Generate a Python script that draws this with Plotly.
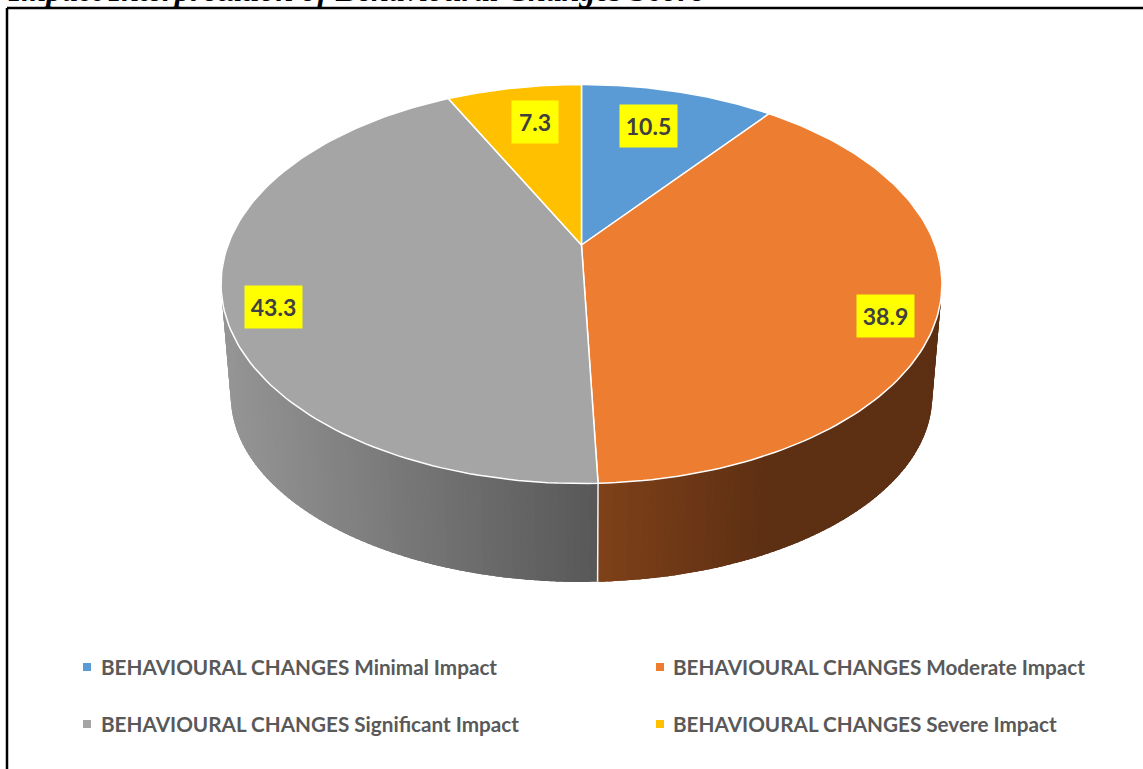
import numpy as np
import plotly.graph_objects as go

# Data
categories = ["BEHAVIOURAL CHANGES Minimal Impact", "BEHAVIOURAL CHANGES Moderate Impact",
              "BEHAVIOURAL CHANGES Significant Impact", "BEHAVIOURAL CHANGES Severe Impact"]
values = [10.5, 38.9, 43.3, 7.3]
colors = ["#5B9BD5", "#ED7D31", "#A5A5A5", "#FFC000"]

# Picture geometry (pixel space of the page) of the tilted disc
CX, CY = 581.5, 284.0
B, A, C, K = 353.5, 199.5, 39.0, 0.1955
LOW_CY, LOW_SX, LOW_SY = 396.0, 0.973, 0.932


def project(theta_deg, r=1.0):
    t = np.radians(theta_deg)
    u, v = r * np.sin(t), r * np.cos(t)
    d = 1 + K * v
    return B * u / d, (A * v + C) / d


def top(theta_deg, r=1.0):
    x, y = project(theta_deg, r)
    return CX + x, CY - y


def low(theta_deg):
    x, y = project(theta_deg)
    return CX + LOW_SX * x, LOW_CY - LOW_SY * y


def lerp_hex(c0, c1, f):
    f = min(max(f, 0), 1)
    a = [int(c0[i:i + 2], 16) for i in (1, 3, 5)]
    b = [int(c1[i:i + 2], 16) for i in (1, 3, 5)]
    return "rgb(%d,%d,%d)" % tuple(round(p + (q - p) * f) for p, q in zip(a, b))


edges = np.concatenate([[0], np.cumsum(values)]) / sum(values) * 360
fig = go.Figure()

# Side wall, as narrow shaded strips that overlap the next one so no seams show
front = edges[2]
for lo, hi, c0, c1, x0, span in [(90.0, front, "#7F4119", "#5D2F13", 597, 170),
                                 (front, 270.0, "#585858", "#959595", 596, -368)]:
    steps = np.linspace(lo, hi, 90)
    for a0, a1 in zip(steps[:-1], steps[1:]):
        aend = min(a1 + 1.5, hi)
        xm = (top(a0)[0] + top(a1)[0] + low(a0)[0] + low(a1)[0]) / 4
        col = lerp_hex(c0, c1, (xm - x0) / span)
        th = np.linspace(a0, aend, 4)
        ux, uy = top(th)
        vx, vy = low(th[::-1])
        fig.add_trace(go.Scatter(x=np.r_[ux, vx, ux[0]], y=np.r_[uy, vy, uy[0]], mode="lines",
                                 fill="toself", fillcolor=col, line=dict(width=0),
                                 hoverinfo="skip", showlegend=False))

# Seam of the wall at the front
fx0, fy0 = top(front); fx1, fy1 = low(front)
fig.add_trace(go.Scatter(x=[fx0, fx1], y=[fy0, fy1], mode="lines",
                         line=dict(color="#F2F2F2", width=1.5), hoverinfo="skip", showlegend=False))

# Top face
for i, (name, val, col) in enumerate(zip(categories, values, colors)):
    th = np.linspace(edges[i], edges[i + 1], 120)
    rx, ry = top(th)
    ax, ay = top(0.0, 0.0)
    fig.add_trace(go.Scatter(x=np.r_[ax, rx, ax], y=np.r_[ay, ry, ay], mode="lines", fill="toself",
                             fillcolor=col, line=dict(color="#FFFFFF", width=1.5),
                             name=name, text=str(val), hoverinfo="name+text", showlegend=False))

# Value labels placed along each slice
label_radius = [0.738, 0.872, 0.875, 0.748]
label_nudge = [-2.0, 5.5, -6.1, 1.5]
label_width = [57, 57, 57, 46]
for i, val in enumerate(values):
    mid = (edges[i] + edges[i + 1]) / 2 + label_nudge[i]
    lx, ly = top(mid, label_radius[i])
    fig.add_annotation(x=lx, y=ly, text=f"{val}", showarrow=False, bgcolor="#FFFF00",
                       width=label_width[i], height=42, borderpad=0, align="center", valign="middle",
                       font=dict(family="Lato", size=23, color="#404040", weight="bold"))

# Legend keys
key_x = [87, 660, 87, 660]
key_y = [667, 667, 724, 724]
text_gap = [12, 11, 12, 11]
for name, col, kx, ky, gap in zip(categories, colors, key_x, key_y, text_gap):
    fig.add_trace(go.Scatter(x=[kx], y=[ky], mode="markers", marker=dict(symbol="square", size=8, color=col),
                             hoverinfo="skip", showlegend=False))
    fig.add_annotation(x=kx + gap, y=ky, text=name, showarrow=False, xanchor="left", yanchor="middle",
                       font=dict(family="Lato", size=20.7, color="#595959", weight="bold"))

# Cut-off heading above the frame
fig.add_annotation(x=6, y=10, text="<b><i>Impact Interpretation of Behavioural Changes Score</i></b>",
                   showarrow=False, xanchor="left", yanchor="bottom",
                   font=dict(family="Liberation Serif", size=31.9, color="#000000"))

# Frame
fig.add_shape(type="line", x0=7, x1=1143, y0=8, y1=8, line=dict(color="#000000", width=2.5))
fig.add_shape(type="line", x0=7, x1=7, y0=8, y1=769, line=dict(color="#000000", width=2.5))

fig.update_layout(width=1143, height=769, margin=dict(l=0, r=0, t=0, b=0), paper_bgcolor="#FFFFFF",
                  plot_bgcolor="#FFFFFF", showlegend=False,
                  xaxis=dict(range=[0, 1143], visible=False, fixedrange=True),
                  yaxis=dict(range=[769, 0], visible=False, fixedrange=True))
fig.write_html("out.html", config={"displayModeBar": False},
               post_script="document.body.style.margin='0';document.body.style.overflow='hidden';")
